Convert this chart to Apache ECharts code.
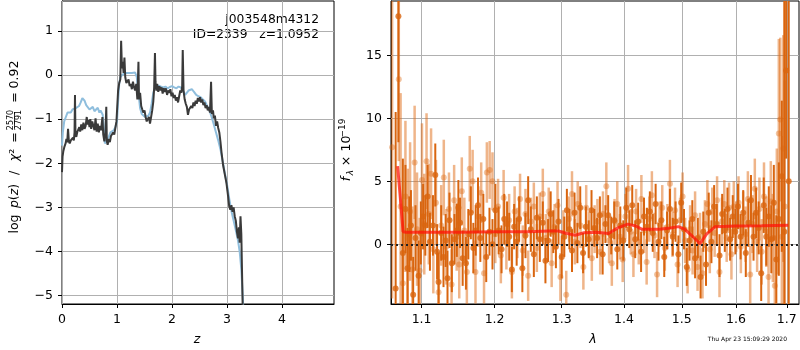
<!DOCTYPE html>
<html><head><meta charset="utf-8">
<script src="https://cdn.jsdelivr.net/npm/echarts@6/dist/echarts.min.js"></script>
<style>html,body{margin:0;padding:0;background:#fff}#c{width:800px;height:350px}</style>
</head><body><div id="c"></div>
<script>
// ---------- left panel: log p(z) ----------
const zDark = [0.000,0.010,0.025,0.045,0.065,0.080,0.095,0.110,0.125,0.140,0.160,0.180,0.200,0.215,0.228,0.236,0.245,0.260,0.280,0.300,0.315,0.330,0.350,0.370,0.390,0.410,0.430,0.450,0.465,0.480,0.500,0.515,0.530,0.550,0.570,0.590,0.610,0.630,0.650,0.670,0.690,0.710,0.735,0.750,0.770,0.790,0.805,0.815,0.830,0.850,0.870,0.890,0.910,0.930,0.950,0.970,0.990,1.005,1.020,1.040,1.060,1.075,1.090,1.105,1.120,1.135,1.150,1.170,1.190,1.210,1.230,1.250,1.270,1.290,1.310,1.330,1.350,1.370,1.390,1.400,1.420,1.440,1.460,1.480,1.500,1.520,1.540,1.560,1.580,1.600,1.620,1.640,1.660,1.675,1.690,1.700,1.715,1.730,1.750,1.770,1.790,1.810,1.830,1.850,1.870,1.890,1.910,1.930,1.950,1.970,1.990,2.010,2.030,2.050,2.070,2.090,2.110,2.130,2.150,2.170,2.185,2.195,2.210,2.230,2.250,2.270,2.290,2.310,2.330,2.350,2.370,2.390,2.410,2.430,2.450,2.470,2.490,2.510,2.530,2.550,2.570,2.590,2.610,2.630,2.650,2.670,2.690,2.710,2.725,2.745,2.760,2.780,2.800,2.820,2.840,2.860,2.880,2.900,2.930,2.960,2.990,3.020,3.040,3.060,3.080,3.100,3.120,3.140,3.160,3.180,3.200,3.215,3.230,3.245,3.260,3.275,3.290,3.310];
const pDark = [-2.20,-1.85,-1.72,-1.62,-1.55,-1.45,-1.52,-1.22,-1.50,-1.55,-1.48,-1.52,-1.42,-1.48,-1.30,-0.45,-1.35,-1.40,-1.28,-1.32,-1.18,-1.28,-1.12,-1.25,-1.08,-1.22,-1.15,-0.95,-1.12,-1.02,-1.18,-1.00,-1.22,-1.05,-1.15,-1.25,-0.98,-1.28,-1.10,-1.30,-1.15,-1.25,-0.95,-1.35,-1.50,-1.30,-0.72,-1.50,-1.58,-1.45,-1.52,-1.38,-1.42,-1.30,-1.35,-1.20,-1.05,-0.70,-0.35,-0.18,-0.10,0.78,0.15,0.30,0.05,0.40,-0.05,-0.18,-0.22,-0.10,-0.25,-0.20,-0.32,-0.15,-0.28,-0.35,-0.20,-0.55,0.30,-0.55,-0.40,-0.70,-0.78,-0.85,-0.80,-0.95,-1.05,-1.08,-0.95,-1.10,-0.95,-0.80,-0.60,-0.30,0.50,-0.15,-0.35,-0.20,-0.38,-0.25,-0.35,-0.28,-0.42,-0.30,-0.38,-0.30,-0.45,-0.35,-0.40,-0.32,-0.48,-0.40,-0.52,-0.45,-0.58,-0.50,-0.62,-0.48,-0.35,-0.40,-0.25,0.57,-0.35,-0.55,-0.65,-0.72,-0.90,-0.78,-0.82,-0.70,-0.75,-0.62,-0.70,-0.58,-0.65,-0.52,-0.60,-0.50,-0.62,-0.55,-0.68,-0.62,-0.75,-0.68,-0.80,-0.72,-0.85,-0.15,-0.88,-0.80,-0.98,-0.92,-1.15,-1.05,-1.20,-1.30,-1.50,-1.75,-2.05,-2.25,-2.45,-2.75,-2.98,-3.05,-2.95,-3.10,-3.00,-3.20,-3.30,-3.55,-3.70,-3.45,-3.80,-3.20,-3.60,-4.60,-5.60,-7.00];
const zBlue = [0.000,0.015,0.040,0.070,0.100,0.130,0.160,0.190,0.220,0.250,0.280,0.310,0.340,0.370,0.390,0.410,0.440,0.470,0.500,0.530,0.560,0.590,0.620,0.650,0.680,0.700,0.720,0.740,0.760,0.780,0.800,0.820,0.850,0.880,0.910,0.940,0.970,1.000,1.020,1.040,1.060,1.090,1.120,1.150,1.180,1.210,1.240,1.270,1.300,1.330,1.360,1.390,1.420,1.450,1.480,1.510,1.540,1.570,1.600,1.630,1.660,1.690,1.720,1.760,1.800,1.840,1.880,1.920,1.960,2.000,2.040,2.080,2.120,2.160,2.200,2.240,2.270,2.300,2.330,2.360,2.400,2.440,2.480,2.520,2.560,2.600,2.640,2.680,2.720,2.760,2.800,2.840,2.880,2.920,2.960,3.000,3.040,3.080,3.120,3.160,3.200,3.230,3.260,3.290,3.320];
const pBlue = [-1.60,-1.30,-1.05,-0.95,-0.85,-0.82,-0.85,-0.78,-0.82,-0.75,-0.72,-0.70,-0.62,-0.52,-0.50,-0.58,-0.68,-0.72,-0.78,-0.76,-0.72,-0.82,-0.78,-0.74,-0.85,-0.80,-0.76,-0.90,-1.20,-1.55,-1.58,-1.45,-1.40,-1.30,-1.28,-1.25,-1.18,-1.05,-0.60,-0.20,-0.05,0.00,0.02,0.05,0.03,0.05,0.06,0.05,0.08,0.06,-0.05,-0.40,-0.75,-0.88,-0.92,-0.95,-0.97,-0.92,-0.85,-0.65,-0.40,-0.28,-0.25,-0.24,-0.26,-0.28,-0.26,-0.30,-0.27,-0.25,-0.28,-0.30,-0.26,-0.28,-0.35,-0.45,-0.42,-0.35,-0.31,-0.32,-0.38,-0.45,-0.48,-0.50,-0.55,-0.60,-0.70,-0.80,-0.95,-1.12,-1.30,-1.48,-1.68,-1.95,-2.22,-2.48,-2.80,-3.08,-3.30,-3.52,-3.75,-4.00,-4.40,-5.10,-6.50];
const zTicks = [0,1,2,3,4];
const pTicks = [-5,-4,-3,-2,-1,0,1];

// ---------- right panel: spectrum ----------
const lamDark = [1.0665,1.0700,1.0757,1.0790,1.0817,1.0840,1.0861,1.0890,1.0920,1.0961,1.0990,1.1020,1.1049,1.1079,1.1110,1.1150,1.1181,1.1205,1.1225,1.1260,1.1291,1.1320,1.1345,1.1372,1.1404,1.1440,1.1472,1.1493,1.1516,1.1552,1.1597,1.1630,1.1665,1.1700,1.1733,1.1765,1.1798,1.1840,1.1881,1.1927,1.1970,1.2011,1.2058,1.2100,1.2139,1.2180,1.2211,1.2250,1.2283,1.2320,1.2356,1.2404,1.2450,1.2490,1.2530,1.2575,1.2620,1.2665,1.2710,1.2750,1.2790,1.2830,1.2870,1.2910,1.2950,1.3000,1.3040,1.3080,1.3120,1.3160,1.3200,1.3245,1.3290,1.3335,1.3380,1.3425,1.3470,1.3515,1.3560,1.3605,1.3650,1.3695,1.3740,1.3790,1.3840,1.3890,1.3940,1.3990,1.4040,1.4090,1.4140,1.4190,1.4240,1.4290,1.4340,1.4390,1.4440,1.4490,1.4540,1.4590,1.4640,1.4690,1.4740,1.4790,1.4840,1.4890,1.4940,1.4990,1.5040,1.5090,1.5140,1.5190,1.5240,1.5290,1.5340,1.5390,1.5440,1.5490,1.5540,1.5590,1.5640,1.5690,1.5740,1.5790,1.5840,1.5890,1.5940,1.5990,1.6040,1.6090,1.6140,1.6190,1.6240,1.6290,1.6340,1.6390,1.6440,1.6490,1.6540,1.6590,1.6640,1.6690,1.6740,1.6790,1.6840,1.6900,1.6950,1.6987,1.7040];
const fluxDark = [-3.5,18.1,-0.7,2.8,-1.9,0.8,1.5,-4.0,0.5,-2.5,0.9,2.2,1.5,3.8,0.2,1.5,5.5,-0.6,-3.0,0.9,-1.0,0.3,-2.7,1.9,-1.5,0.4,1.1,2.9,1.7,-1.1,-1.5,0.8,2.5,-0.3,1.1,3.1,0.5,2.0,-1.0,1.0,0.0,2.7,1.1,-0.4,2.0,1.6,0.6,-2.0,1.4,0.2,2.0,-1.9,0.7,3.5,1.2,-0.8,2.1,0.4,1.7,-1.3,0.3,2.4,1.0,-0.2,1.8,-1.0,0.6,2.7,1.2,-0.5,2.5,0.1,2.9,-0.7,1.4,0.4,2.7,1.3,0.5,2.3,-0.8,1.6,2.3,0.7,1.9,-0.4,1.5,0.3,2.9,1.2,3.1,0.4,1.8,-0.6,2.2,1.4,2.6,0.9,3.2,0.2,1.9,-1.0,1.1,2.8,0.6,1.8,-0.8,3.3,1.2,-1.8,0.3,2.0,-1.1,0.5,-2.6,1.0,-1.6,2.5,0.2,3.0,1.6,-0.9,2.4,1.1,2.8,0.4,2.2,1.0,3.0,0.6,2.5,-0.7,1.7,3.5,0.6,2.5,1.3,-2.3,3.1,0.6,2.2,0.4,3.3,-1.2,2.0,5.4,1.0,13.8,5.0];
const errDark = [14,10,7.5,3.5,3.2,3.0,2.8,3.0,2.6,2.8,2.5,2.6,2.4,2.5,2.3,2.4,2.5,2.2,2.3,2.2,2.4,2.1,2.2,2.2,2.3,2.0,2.1,2.2,2.0,2.2,2.1,2.0,2.1,2.0,2.0,2.2,1.9,2.0,2.0,1.9,2.0,2.1,1.9,1.9,2.0,1.8,1.9,1.8,1.8,1.9,1.8,1.9,1.8,1.9,1.8,1.8,1.7,1.8,1.7,1.8,1.7,1.8,1.7,1.7,1.8,1.7,1.6,1.7,1.6,1.7,1.6,1.6,1.7,1.6,1.6,1.5,1.6,1.5,1.6,1.5,1.6,1.5,1.6,1.5,1.5,1.6,1.5,1.6,1.6,1.5,1.6,1.5,1.5,1.6,1.5,1.5,1.6,1.5,1.6,1.5,1.5,1.6,1.5,1.6,1.5,1.6,1.5,1.6,1.6,1.5,1.6,1.5,1.6,1.6,1.7,1.6,1.7,1.6,1.7,1.7,1.6,1.7,1.6,1.7,1.7,1.7,1.7,1.8,1.8,1.8,1.8,1.9,1.9,2.0,1.9,2.0,2.1,2.2,2.2,2.3,2.4,2.7,3.0,3.5,4.5,6.0,20,7.0,22];
const lamLight = [1.0620,1.0705,1.0728,1.0757,1.0790,1.0820,1.0850,1.0880,1.0909,1.0940,1.0975,1.1005,1.1035,1.1065,1.1095,1.1125,1.1155,1.1190,1.1225,1.1260,1.1295,1.1330,1.1365,1.1400,1.1435,1.1470,1.1505,1.1540,1.1575,1.1610,1.1650,1.1690,1.1730,1.1770,1.1810,1.1850,1.1890,1.1930,1.1970,1.2010,1.2050,1.2090,1.2130,1.2170,1.2210,1.2250,1.2290,1.2330,1.2370,1.2410,1.2450,1.2490,1.2530,1.2575,1.2620,1.2665,1.2710,1.2755,1.2800,1.2845,1.2890,1.2935,1.2980,1.3025,1.3070,1.3115,1.3160,1.3205,1.3250,1.3295,1.3340,1.3385,1.3430,1.3475,1.3520,1.3565,1.3610,1.3655,1.3710,1.3755,1.3800,1.3845,1.3890,1.3935,1.3980,1.4025,1.4070,1.4115,1.4160,1.4205,1.4250,1.4295,1.4340,1.4385,1.4430,1.4475,1.4520,1.4565,1.4610,1.4655,1.4700,1.4745,1.4790,1.4835,1.4880,1.4925,1.4970,1.5015,1.5060,1.5105,1.5150,1.5195,1.5240,1.5285,1.5330,1.5375,1.5420,1.5465,1.5510,1.5555,1.5600,1.5645,1.5690,1.5735,1.5780,1.5825,1.5870,1.5915,1.5960,1.6005,1.6050,1.6095,1.6140,1.6185,1.6230,1.6275,1.6320,1.6365,1.6410,1.6455,1.6500,1.6545,1.6590,1.6635,1.6680,1.6720,1.6760,1.6800,1.6840,1.6870,1.6900,1.6930,1.6960];
const fluxLight = [7.7,13.1,3.0,-3.1,3.8,0.5,2.6,-2.0,6.5,1.2,-2.1,5.1,1.6,6.6,2.4,5.6,-0.4,3.3,-3.8,1.5,5.3,-0.2,2.8,-3.2,3.5,0.6,-1.6,4.2,1.1,-2.2,6.0,5.0,-2.2,2.2,4.1,-2.3,5.7,5.9,5.0,0.8,3.0,-0.9,3.7,0.1,1.9,-2.2,2.6,0.9,3.6,-0.5,2.4,-2.5,1.8,3.0,-0.3,2.2,4.0,0.5,2.6,-1.5,1.4,3.1,-2.6,0.9,-4.0,2.0,4.0,0.2,3.2,1.5,-1.8,2.9,0.8,-1.1,1.2,1.8,-0.6,2.4,4.6,0.3,-1.5,1.8,3.2,0.6,-1.2,2.2,4.4,1.0,-0.8,2.6,0.2,3.6,1.1,-1.4,2.0,3.9,0.7,-2.4,1.6,2.9,-0.3,1.4,4.8,0.8,2.7,-1.6,1.9,3.8,0.3,-2.0,1.2,-0.5,2.3,-1.8,0.6,-2.3,1.6,3.2,-0.4,2.6,0.9,3.5,-2.2,1.8,3.2,0.5,2.9,-0.8,3.0,1.4,3.3,-0.2,2.1,0.8,3.6,-2.4,1.6,4.4,0.2,2.8,-0.6,3.8,1.0,-2.6,3.4,0.5,-3.3,2.6,8.8,9.9,0.6,7.6,3.0];
const errLight = [12,6.5,9,5,6,5.5,5.5,5,4.5,4.5,4.2,4.5,4.0,3.8,4.0,3.6,3.5,3.4,3.2,3.2,3.0,3.0,2.9,2.8,2.8,2.7,2.7,2.7,2.6,2.6,2.6,2.5,2.5,2.4,2.4,2.4,2.4,2.3,2.3,2.3,2.2,2.2,2.2,2.1,2.1,2.1,2.0,2.0,2.0,2.0,2.0,2.0,1.9,1.9,1.9,1.9,2.0,1.9,1.9,1.9,1.8,1.9,1.9,1.8,1.9,1.8,1.8,1.8,1.8,1.8,1.8,1.8,1.8,1.8,1.9,1.8,1.8,1.8,1.9,1.8,1.8,1.8,1.8,1.8,1.8,1.8,1.9,1.8,1.8,1.8,1.8,1.9,1.8,1.8,1.8,1.9,1.8,1.8,1.8,1.8,1.8,1.8,1.9,1.8,1.8,1.8,1.8,1.9,1.8,1.9,1.9,1.9,1.9,1.9,1.9,2.0,1.9,1.9,1.9,1.9,1.9,1.9,2.0,1.9,1.9,1.9,2.0,2.0,2.0,2.0,2.1,2.1,2.1,2.2,2.2,2.3,2.3,2.4,2.4,2.5,2.6,2.7,2.8,3.0,3.2,3.5,4.0,5.0,7.5,6.5,8.0,9.0,10];
const lamModel = [1.0690,1.0720,1.0760,1.0800,1.1000,1.1500,1.2000,1.2500,1.2800,1.2950,1.3050,1.3210,1.3350,1.3550,1.3745,1.3900,1.4066,1.4200,1.4300,1.4600,1.4800,1.4940,1.5050,1.5200,1.5330,1.5450,1.5610,1.6000,1.6500,1.7030];
const fluxModel = [6.2,4.0,1.0,0.95,0.95,0.95,1.0,1.0,1.05,1.05,0.9,0.72,0.92,0.95,0.85,1.3,1.6,1.45,1.2,1.2,1.3,1.4,1.2,0.6,0.05,0.8,1.4,1.45,1.48,1.52];
const lamTicks = [1.1,1.2,1.3,1.4,1.5,1.6,1.7];
const fTicks = [0,5,10,15];

const FONT = 'DejaVu Sans';
const GRID_COLOR = '#b0b0b0';
const minus = v => (v < 0 ? '\u2212' + Math.abs(v) : String(v));
const zip3 = (a,b,c) => a.map((v,i) => [v, b[i], c[i]]);
const zip2 = (a,b) => a.map((v,i) => [v, b[i]]);

function errRender(color, width) {
  return function (params, api) {
    const x = api.value(0), y = api.value(1), e = api.value(2);
    const p1 = api.coord([x, y - e]), p2 = api.coord([x, y + e]);
    const cs = params.coordSys;
    const top = cs.y, bot = cs.y + cs.height;
    const y1 = Math.min(bot, Math.max(top, p1[1]));
    const y2 = Math.min(bot, Math.max(top, p2[1]));
    return { type: 'line', shape: { x1: p1[0], y1: y1, x2: p2[0], y2: y2 },
             style: { stroke: color, lineWidth: width } };
  };
}
// grid lines as a markLine attached to an invisible helper series
function gridSeries(xi, xs, ys, anchor) {
  return { type: 'line', xAxisIndex: xi, yAxisIndex: xi, data: [anchor], symbol: 'none', showSymbol: false,
    lineStyle: { opacity: 0 }, silent: true, z: 1,
    markLine: { silent: true, z: 1, symbol: ['none', 'none'], label: { show: false }, animation: false,
      lineStyle: { color: GRID_COLOR, type: 'solid', width: 1 },
      emphasis: { disabled: true },
      data: xs.map(v => ({ xAxis: v })).concat(ys.map(v => ({ yAxis: v }))) } };
}

const axisCommon = {
  axisLine: { show: true, onZero: false, lineStyle: { color: '#000', width: 1 } },
  splitLine: { show: false },
};
const tickStyle = { show: true, inside: false, length: 4, lineStyle: { color: '#000', width: 1 } };
const labelStyle = { color: '#000', fontFamily: FONT, fontSize: 12.5, margin: 9 };

const chart = echarts.init(document.getElementById('c'), null, { renderer: 'canvas' });
chart.setOption({
  animation: false,
  backgroundColor: '#fff',
  grid: [
    { left: 62, top: 1, width: 272, height: 303, show: true, borderColor: '#000', borderWidth: 1, backgroundColor: 'transparent' },
    { left: 391, top: 1, width: 408, height: 303, show: true, borderColor: '#000', borderWidth: 1, backgroundColor: 'transparent' }
  ],
  xAxis: [
    Object.assign({}, axisCommon, { gridIndex: 0, type: 'value', min: 0, max: 4.945,
      axisTick: Object.assign({}, tickStyle, { customValues: zTicks }),
      axisLabel: Object.assign({}, labelStyle, { customValues: zTicks, formatter: minus }) }),
    Object.assign({}, axisCommon, { gridIndex: 1, type: 'log', logBase: 10, min: 1.0606, max: 1.725,
      axisTick: Object.assign({}, tickStyle, { customValues: lamTicks }),
      axisLabel: Object.assign({}, labelStyle, { customValues: lamTicks, formatter: v => v.toFixed(1) }),
      minorTick: { show: false }, minorSplitLine: { show: false } })
  ],
  yAxis: [
    Object.assign({}, axisCommon, { gridIndex: 0, type: 'value', min: -5.19, max: 1.68,
      axisTick: Object.assign({}, tickStyle, { customValues: pTicks }),
      axisLabel: Object.assign({}, labelStyle, { customValues: pTicks, formatter: minus }) }),
    Object.assign({}, axisCommon, { gridIndex: 1, type: 'value', min: -4.74, max: 19.31,
      axisTick: Object.assign({}, tickStyle, { customValues: fTicks }),
      axisLabel: Object.assign({}, labelStyle, { customValues: fTicks, formatter: minus }) })
  ],
  series: [
    gridSeries(0, zTicks, pTicks, [1, 0]),
    gridSeries(1, lamTicks, fTicks, [1.3, 0]),
    // left panel curves
    { type: 'line', xAxisIndex: 0, yAxisIndex: 0, data: zip2(zBlue, pBlue), showSymbol: false, symbol: 'none',
      lineStyle: { color: '#8fbedd', width: 2 }, clip: true, z: 3 },
    { type: 'line', xAxisIndex: 0, yAxisIndex: 0, data: zip2(zDark, pDark), showSymbol: false, symbol: 'none',
      lineStyle: { color: '#3a3a3a', width: 2 }, clip: true, z: 4 },
    // right panel spectrum
    { type: 'custom', xAxisIndex: 1, yAxisIndex: 1, data: zip3(lamLight, fluxLight, errLight),
      renderItem: errRender('rgba(223,107,21,0.5)', 2.5), clip: true, z: 3 },
    { type: 'scatter', xAxisIndex: 1, yAxisIndex: 1, data: zip2(lamLight, fluxLight), symbolSize: 6,
      itemStyle: { color: 'rgba(223,107,21,0.5)' }, clip: true, z: 3 },
    { type: 'custom', xAxisIndex: 1, yAxisIndex: 1, data: zip3(lamDark, fluxDark, errDark),
      renderItem: errRender('#d9650f', 2), clip: true, z: 4 },
    { type: 'scatter', xAxisIndex: 1, yAxisIndex: 1, data: zip2(lamDark, fluxDark), symbolSize: 6,
      itemStyle: { color: '#d9650f' }, clip: true, z: 4 },
    { type: 'line', xAxisIndex: 1, yAxisIndex: 1, data: zip2(lamModel, fluxModel), showSymbol: false, symbol: 'none',
      lineStyle: { color: 'rgba(255,20,10,0.75)', width: 3 }, clip: true, z: 5,
      markLine: { silent: true, symbol: ['none', 'none'], label: { show: false },
        lineStyle: { color: '#222', type: [2, 3], width: 2 }, data: [{ yAxis: 0 }] } }
  ],
  graphic: [
    { type: 'text', x: 319, y: 20, style: { text: 'j003548m4312', font: '12.3px "DejaVu Sans"', fill: '#000', align: 'right', verticalAlign: 'middle' } },
    { type: 'text', x: 319, y: 35, style: { text: 'ID=2339   z=1.0952', font: '12.3px "DejaVu Sans"', fill: '#000', align: 'right', verticalAlign: 'middle' } },
    { type: 'text', x: 197, y: 340, style: { text: 'z', font: 'italic 12.5px "DejaVu Sans"', fill: '#000', align: 'center', verticalAlign: 'middle' } },
    { type: 'text', x: 593, y: 340, style: { text: 'λ', font: 'italic 12.5px "DejaVu Sans"', fill: '#000', align: 'center', verticalAlign: 'middle' } },
    { type: 'text', x: 787, y: 339.5, style: { text: 'Thu Apr 23 15:09:29 2020', font: '6px "DejaVu Sans"', fill: '#000', align: 'right', verticalAlign: 'middle' } },
    { type: 'group', x: 15, y: 148, rotation: Math.PI / 2, children: [
      { type: 'text', x: -76, y: 0, style: { text: 'log', font: '12.5px "DejaVu Sans"', fill: '#000', align: 'center', verticalAlign: 'middle' } },
      { type: 'text', x: -48, y: 0, style: { text: '{i|p}{n|(}{i|z}{n|)}', align: 'center', verticalAlign: 'middle',
          rich: { i: { fontStyle: 'italic', fontSize: 12.5, fontFamily: FONT, color: '#000' }, n: { fontSize: 12.5, fontFamily: FONT, color: '#000' } } } },
      { type: 'text', x: -25, y: 0, style: { text: '/', font: '12.5px "DejaVu Sans"', fill: '#000', align: 'center', verticalAlign: 'middle' } },
      { type: 'text', x: -7, y: 0, style: { text: '{i|χ}{n|²}', align: 'center', verticalAlign: 'middle',
          rich: { i: { fontStyle: 'italic', fontSize: 12.5, fontFamily: FONT, color: '#000' }, n: { fontSize: 12.5, fontFamily: FONT, color: '#000' } } } },
      { type: 'text', x: 10.5, y: 0, style: { text: '=', font: '12.5px "DejaVu Sans"', fill: '#000', align: 'center', verticalAlign: 'middle' } },
      { type: 'text', x: 28, y: -4.5, style: { text: '2570', font: '8px "DejaVu Sans"', fill: '#000', align: 'center', verticalAlign: 'middle' } },
      { type: 'line', shape: { x1: 20, y1: -0.5, x2: 36, y2: -0.5 }, style: { stroke: '#000', lineWidth: 0.8 } },
      { type: 'text', x: 28, y: 4, style: { text: '2791', font: '8px "DejaVu Sans"', fill: '#000', align: 'center', verticalAlign: 'middle' } },
      { type: 'text', x: 50.5, y: 0, style: { text: '=', font: '12.5px "DejaVu Sans"', fill: '#000', align: 'center', verticalAlign: 'middle' } },
      { type: 'text', x: 73.5, y: 0, style: { text: '0.92', font: '12.5px "DejaVu Sans"', fill: '#000', align: 'center', verticalAlign: 'middle' } }
    ] },
    { type: 'group', x: 347, y: 154, rotation: Math.PI / 2, children: [
      { type: 'text', x: -25, y: 0, style: { text: 'f', font: 'italic 12.5px "DejaVu Sans"', fill: '#000', align: 'center', verticalAlign: 'middle' } },
      { type: 'text', x: -18.5, y: 3.5, style: { text: 'λ', font: 'italic 9px "DejaVu Sans"', fill: '#000', align: 'center', verticalAlign: 'middle' } },
      { type: 'text', x: -7, y: 0, style: { text: '×', font: '12.5px "DejaVu Sans"', fill: '#000', align: 'center', verticalAlign: 'middle' } },
      { type: 'text', x: 10.5, y: 0, style: { text: '10', font: '12.5px "DejaVu Sans"', fill: '#000', align: 'center', verticalAlign: 'middle' } },
      { type: 'text', x: 26, y: -4.5, style: { text: '\u221219', font: '9px "DejaVu Sans"', fill: '#000', align: 'center', verticalAlign: 'middle' } }
    ] }
  ]
});
</script>
</body></html>
